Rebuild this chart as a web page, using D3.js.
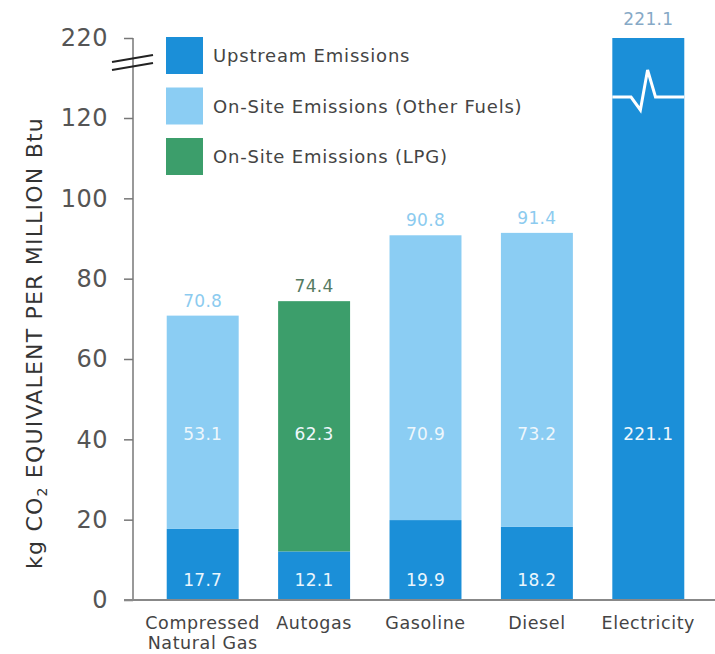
<!DOCTYPE html>
<html>
<head>
<meta charset="utf-8">
<script src="https://cdn.jsdelivr.net/npm/d3@7"></script>
<style>
  html, body { margin: 0; padding: 0; background: #fff; }
  svg { display: block; }
  text { font-family: "DejaVu Sans", sans-serif; }
</style>
</head>
<body>
<svg id="chart" width="715" height="654"></svg>
<script>
const categories = ["Compressed\nNatural Gas", "Autogas", "Gasoline", "Diesel", "Electricity"];
const upstream = [17.7, 12.1, 19.9, 18.2, 221.1];
const onsiteOther = [53.1, 0, 70.9, 73.2, 0];
const onsiteLPG = [0, 62.3, 0, 0, 0];
const totals = [70.8, 74.4, 90.8, 91.4, 221.1];
const yTicks = [0, 20, 40, 60, 80, 100, 120, 220];
const seriesNames = ["Upstream Emissions", "On-Site Emissions (Other Fuels)", "On-Site Emissions (LPG)"];

const colors = { up: "#1b8fd8", other: "#8bcdf3", lpg: "#3c9e6b" };
const seriesColors = [colors.up, colors.other, colors.lpg];
const totalColors = ["#8ccbef", "#557a62", "#8ccbef", "#8ccbef", "#86a9c6"];

const svg = d3.select("#chart");

const x = d3.scaleBand()
  .domain(categories)
  .range([147, 704])
  .paddingInner(0.354)
  .paddingOuter(0.177);

// broken axis: 0..120 linear, then break up to 220
const y = d3.scaleLinear().domain([0, 120, 220]).range([600, 118, 38]);

// axis
const axisX = 133;
const yAxis = d3.axisLeft(y).tickValues(yTicks).tickSize(9).tickPadding(16).tickFormat(d3.format("d"));
const gAxis = svg.append("g").attr("transform", `translate(${axisX},0)`).call(yAxis);
gAxis.select(".domain").remove();
gAxis.selectAll(".tick line").attr("stroke", "#777").attr("stroke-width", 1.5);
gAxis.selectAll(".tick text")
  .attr("font-size", 24).attr("fill", "#555").attr("letter-spacing", 0.5)
  .attr("font-family", "DejaVu Sans, sans-serif");
svg.append("line")
  .attr("x1", axisX).attr("x2", axisX)
  .attr("y1", y(0)).attr("y2", y(220))
  .attr("stroke", "#777").attr("stroke-width", 1.5);

// break marks on axis
[0, 8].forEach(off => {
  svg.append("line")
    .attr("x1", 112).attr("y1", 62 + off)
    .attr("x2", 153).attr("y2", 55 + off)
    .attr("stroke", "#222").attr("stroke-width", 2.2);
});

// bars
const g = svg.append("g");
categories.forEach((c, i) => {
  const segs = [
    { v0: 0, v1: upstream[i], col: colors.up },
    { v0: upstream[i], v1: upstream[i] + onsiteOther[i], col: colors.other },
    { v0: upstream[i] + onsiteOther[i], v1: upstream[i] + onsiteOther[i] + onsiteLPG[i], col: colors.lpg }
  ];
  segs.filter(s => s.v1 > s.v0).forEach(s => {
    g.append("rect")
      .attr("x", x(c))
      .attr("width", x.bandwidth())
      .attr("y", y(Math.min(s.v1, 220)))
      .attr("height", y(s.v0) - y(Math.min(s.v1, 220)))
      .attr("fill", s.col);
  });
});

// break zigzag on electricity bar
{
  const c = categories[4];
  const x0 = x(c), w = x.bandwidth();
  const pts = [[0, 97], [0.26, 97], [0.39, 110], [0.49, 70], [0.6, 97], [1, 97]];
  svg.append("path")
    .attr("d", d3.line()(pts.map(p => [x0 + p[0] * w, p[1]])))
    .attr("fill", "none").attr("stroke", "#fff").attr("stroke-width", 3)
    .attr("stroke-linejoin", "miter");
}

// baseline
svg.append("line")
  .attr("x1", 124).attr("x2", 715)
  .attr("y1", y(0)).attr("y2", y(0))
  .attr("stroke", "#888").attr("stroke-width", 2);

// value labels
const cx = c => x(c) + x.bandwidth() / 2;
categories.forEach((c, i) => {
  svg.append("text").attr("x", cx(c)).attr("y", 586)
    .attr("text-anchor", "middle").attr("font-size", 17).attr("letter-spacing", 0.3).attr("fill", "#eaf6fd")
    .text(i === 4 ? "" : upstream[i].toFixed(1));
  const mid = i === 4 ? upstream[i] : (onsiteOther[i] || onsiteLPG[i]);
  svg.append("text").attr("x", cx(c)).attr("y", 440)
    .attr("text-anchor", "middle").attr("font-size", 17).attr("letter-spacing", 0.3).attr("fill", "#eef7fc")
    .text(mid.toFixed(1));
  svg.append("text").attr("x", cx(c)).attr("y", y(Math.min(totals[i], 220)) - (i === 4 ? 13 : 9))
    .attr("text-anchor", "middle").attr("font-size", 17).attr("letter-spacing", 0.3).attr("fill", totalColors[i])
    .text(totals[i].toFixed(1));
});

// category labels
categories.forEach(c => {
  const lines = c.split("\n");
  const t = svg.append("text").attr("x", cx(c)).attr("y", 629)
    .attr("text-anchor", "middle").attr("font-size", 17.5).attr("letter-spacing", 0.6).attr("fill", "#444");
  lines.forEach((l, k) => t.append("tspan").attr("x", cx(c)).attr("dy", k === 0 ? 0 : 20).text(l));
});

// legend
seriesNames.forEach((n, k) => {
  const yy = 37 + k * 50.5;
  svg.append("rect").attr("x", 166).attr("y", yy).attr("width", 37).attr("height", 37).attr("fill", seriesColors[k]);
  svg.append("text").attr("x", 213).attr("y", yy + 25).attr("font-size", 18).attr("letter-spacing", 0.8)
    .attr("fill", "#444").text(n);
});

// y axis title
const title = svg.append("text")
  .attr("transform", "translate(42,343) rotate(-90)")
  .attr("text-anchor", "middle").attr("font-size", 22).attr("letter-spacing", 1.2).attr("fill", "#333");
title.append("tspan").text("kg CO");
title.append("tspan").attr("font-size", 14).attr("dy", 5).text("2");
title.append("tspan").attr("dy", -5).text(" EQUIVALENT PER MILLION Btu");
</script>
</body>
</html>
